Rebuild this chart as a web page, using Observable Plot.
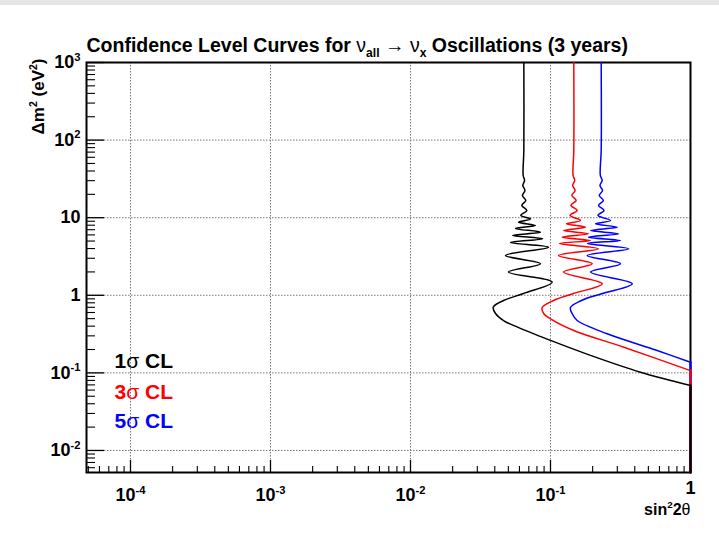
<!DOCTYPE html>
<html><head><meta charset="utf-8">
<script src="https://cdn.jsdelivr.net/npm/d3@7"></script>
<script src="https://cdn.jsdelivr.net/npm/@observablehq/plot@0.6"></script>
<style>
html,body{margin:0;padding:0;background:#fff;}
#topbar{height:5px;background:#e5e5e5;}
#chart svg{display:block;}
</style></head><body>
<div id="topbar"></div>
<div id="chart"></div>
<script>
// ---------- data ----------
const titleText = "Confidence Level Curves for ν_{all} → ν_{x} Oscillations (3 years)";
const yTitle = "Δm^{2} (eV^{2})";
const xTitle = "sin^{2}2θ";

const xTickValues = [1e-4, 1e-3, 1e-2, 1e-1, 1];
const xTickLabels = ["10^{-4}", "10^{-3}", "10^{-2}", "10^{-1}", "1"];
const yTickValues = [0.01, 0.1, 1, 10, 100, 1000];
const yTickLabels = ["10^{-2}", "10^{-1}", "1", "10", "10^{2}", "10^{3}"];

const legendLabels = ["1σ CL", "3σ CL", "5σ CL"];
const seriesColors = ["#000000", "#ff0000", "#0000ff"];

// 1 sigma (black): oscillating part, then the edge segment along sin^2 2θ = 1
const blackS = [0.0645, 0.0645, 0.0638, 0.0653, 0.0634, 0.0657, 0.0630, 0.0666, 0.0624, 0.0677, 0.0613,
  0.0720, 0.0591, 0.0781, 0.0562, 0.0848, 0.0535, 0.0877, 0.0518, 0.0968, 0.0477, 0.0848, 0.0501, 0.1028,
  0.0642, 0.0462, 0.0390, 0.0405, 0.0462, 0.0581, 0.1, 0.193, 0.439, 1];
const blackM = [1000, 73.4, 35.0, 30.2, 26.0, 22.4, 19.3, 16.7, 14.4, 12.4, 10.7,
  9.62, 8.75, 7.93, 7.26, 6.50, 5.90, 5.35, 4.79, 4.17, 3.26, 2.55, 1.99, 1.48,
  1.055, 0.857, 0.703, 0.583, 0.473, 0.388, 0.262, 0.168, 0.102, 0.0688];
const blackEdgeM = [0.0688, 0.0052];

// 3 sigma (red)
const redS = [0.1467, 0.1467, 0.1450, 0.1490, 0.1440, 0.1500, 0.1420, 0.1525, 0.1400, 0.1550, 0.1380,
  0.1637, 0.1301, 0.1778, 0.1238, 0.1868, 0.1213, 0.1931, 0.1160, 0.2203, 0.1141, 0.1986, 0.1238, 0.2340,
  0.1462, 0.1051, 0.0872, 0.0896, 0.1, 0.1467, 0.334, 1];
const redM = [1000, 73.4, 35.0, 30.2, 26.0, 22.4, 19.3, 16.7, 14.4, 12.4, 10.7,
  9.20, 8.34, 7.54, 6.84, 6.20, 5.61, 5.08, 4.65, 3.97, 3.26, 2.55, 1.99, 1.41,
  1.055, 0.857, 0.696, 0.578, 0.498, 0.352, 0.214, 0.107];
const redEdgeM = [0.107, 0.0052];

// 5 sigma (blue)
const blueS = [0.2302, 0.2302, 0.2270, 0.2340, 0.2255, 0.2355, 0.2230, 0.2385, 0.2205, 0.2410, 0.2180,
  0.2683, 0.2097, 0.2996, 0.1931, 0.3060, 0.1868, 0.3162, 0.1837, 0.3624, 0.1829, 0.3162, 0.1931, 0.3834,
  0.2351, 0.1665, 0.1389, 0.1429, 0.1551, 0.2541, 0.578, 1];
const blueM = [1000, 73.4, 35.0, 30.2, 26.0, 22.4, 19.3, 16.7, 14.4, 12.4, 10.7,
  9.20, 8.34, 7.54, 6.84, 6.20, 5.61, 5.08, 4.65, 3.97, 3.26, 2.55, 1.99, 1.41,
  1.055, 0.857, 0.696, 0.578, 0.473, 0.319, 0.194, 0.137];
const blueEdgeM = [0.137, 0.0052];
const edgeS = [1, 1];

// ---------- axes setup ----------
const xDomain = [4.85e-5, 1];
const yDomain = [0.0052, 1000];
const decadesX = [1e-5, 1e-4, 1e-3, 1e-2, 1e-1];
const decadesY = [1e-3, 1e-2, 1e-1, 1, 10, 100];
const mult = [2, 3, 4, 5, 6, 7, 8, 9];
const inDom = (v, dom) => v >= dom[0] * 0.9999 && v <= dom[1] * 1.0001;
const xMinor = decadesX.flatMap(d => mult.map(m => d * m)).filter(v => inDom(v, xDomain));
const yMinor = decadesY.flatMap(d => mult.map(m => d * m)).filter(v => inDom(v, yDomain));
const xGrid = [1e-4, 1e-3, 1e-2, 1e-1];
const yGrid = [0.01, 0.1, 1, 10, 100];

const W = 719, H = 528, mL = 86, mR = 29, mT = 57, mB = 61;
const pw = W - mL - mR, ph = H - mT - mB;
const gridStyle = {stroke: "#777777", strokeDasharray: "1.5,1.5", strokeWidth: 1};
const bold = {fontWeight: "bold"};

const curves = [
  [blueS, blueM, blueEdgeM, seriesColors[2]],
  [redS, redM, redEdgeM, seriesColors[1]],
  [blackS, blackM, blackEdgeM, seriesColors[0]]
];
const xIdxDecade = [0, 1, 2, 3];
const xIdxOne = [4];

const plot = Plot.plot({
  width: W, height: H,
  marginLeft: mL, marginRight: mR, marginTop: mT, marginBottom: mB,
  x: {type: "log", domain: xDomain, axis: null},
  y: {type: "log", domain: yDomain, axis: null},
  style: {fontFamily: "'Liberation Sans', Arial, Helvetica, sans-serif", background: "white", color: "black"},
  marks: [
    Plot.ruleX(xGrid, {x: d => d, ...gridStyle}),
    Plot.ruleY(yGrid, {y: d => d, ...gridStyle}),
    Plot.tickY(yTickValues, {y: d => d, insetRight: pw - 18, stroke: "black", strokeWidth: 1.3}),
    Plot.tickY(yMinor, {y: d => d, insetRight: pw - 9, stroke: "black", strokeWidth: 1.1}),
    Plot.tickX(xTickValues, {x: d => d, insetTop: ph - 12, stroke: "black", strokeWidth: 1.3}),
    Plot.tickX(xMinor, {x: d => d, insetTop: ph - 6, stroke: "black", strokeWidth: 1.1}),
    Plot.frame({stroke: "black", strokeWidth: 2}),
    ...curves.flatMap(([s, m, e, c]) => [
      Plot.line(m, {x: s, y: m, stroke: c, strokeWidth: 1.5, curve: "catmull-rom"}),
      Plot.line(e, {x: edgeS, y: e, stroke: c, strokeWidth: 2.2})
    ]),
    Plot.text(xIdxDecade, {x: i => xTickValues[i], text: i => xTickLabels[i], frameAnchor: "bottom", lineAnchor: "middle", dy: 23, fontSize: 18, ...bold}),
    Plot.text(xIdxOne, {x: i => xTickValues[i], text: i => xTickLabels[i], frameAnchor: "bottom", lineAnchor: "middle", dy: 16, fontSize: 18, ...bold}),
    Plot.text(yTickValues, {y: d => d, text: (d, i) => yTickLabels[i], frameAnchor: "left", textAnchor: "end", lineAnchor: "middle", dx: -6, fontSize: 18, ...bold}),
    Plot.text([titleText], {text: d => d, frameAnchor: "top-left", textAnchor: "start", lineAnchor: "middle", dx: 0, dy: -17, fontSize: 19.5, ...bold}),
    Plot.text([yTitle], {text: d => d, frameAnchor: "top-left", textAnchor: "end", lineAnchor: "middle", rotate: -90, dx: -48, dy: -4, fontSize: 17, ...bold}),
    Plot.text([xTitle], {text: d => d, frameAnchor: "bottom-right", textAnchor: "end", lineAnchor: "middle", dx: 0, dy: 37, fontSize: 16, ...bold}),
    ...legendLabels.map((lab, i) => Plot.text([lab], {text: d => d, frameAnchor: "top-left", textAnchor: "start", lineAnchor: "middle", dx: 28, dy: [299, 330, 359][i], fontSize: 21, fill: seriesColors[i], ...bold}))
  ]
});
document.getElementById("chart").appendChild(plot);

// ---------- rich text: ^{..} superscript, _{..} subscript, greek in normal weight ----------
plot.querySelectorAll("text").forEach(t => {
  const s = t.textContent;
  if (!/[\^_]\{|[σνθ]/.test(s)) return;
  const fs = parseFloat(getComputedStyle(t).fontSize) || 14;
  const parts = s.split(/(\^\{[^}]*\}|_\{[^}]*\}|[σνθ])/).filter(p => p !== "");
  while (t.firstChild) t.removeChild(t.firstChild);
  let cur = 0;
  const NS = "http://www.w3.org/2000/svg";
  for (const p of parts) {
    const ts = document.createElementNS(NS, "tspan");
    let target = 0;
    if (p.startsWith("^{")) {
      ts.textContent = p.slice(2, -1);
      ts.setAttribute("font-size", (fs * 0.62).toFixed(1));
      target = -0.42 * fs;
    } else if (p.startsWith("_{")) {
      ts.textContent = p.slice(2, -1);
      ts.setAttribute("font-size", (fs * 0.62).toFixed(1));
      target = 0.25 * fs;
    } else {
      ts.textContent = p;
      if (/[σνθ]/.test(p)) ts.setAttribute("font-weight", "normal");
    }
    ts.setAttribute("dy", (target - cur).toFixed(2));
    cur = target;
    t.appendChild(ts);
  }
});
</script></body></html>
